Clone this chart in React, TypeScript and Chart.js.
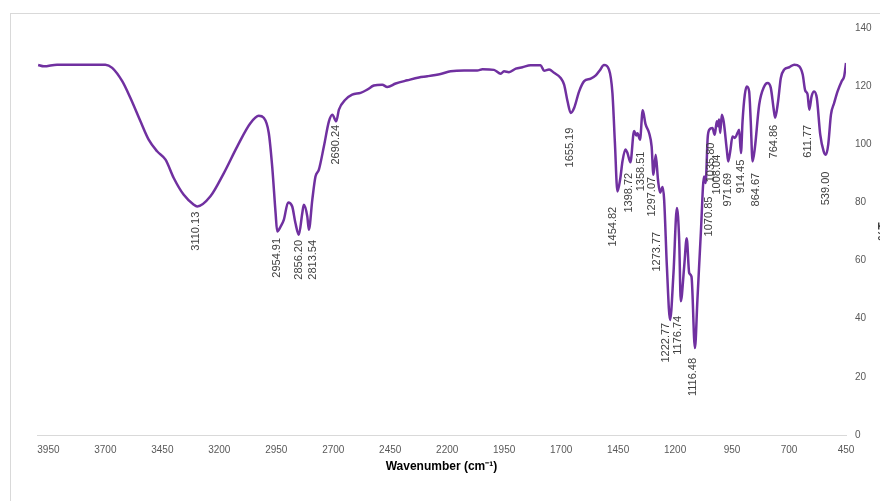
import React, { useEffect, useRef } from "react";
import { Chart, registerables } from "chart.js";

Chart.register(...registerables);

// Spectrum (wavenumber in cm-1, transmittance in %)
const wavenumbers = [
  3995, 3970, 3912, 3700, 3670, 3626, 3590, 3546, 3510, 3473, 3436, 3400, 3356, 3312, 3297,
  3239, 3180, 3121, 3063, 3027, 3005, 2983, 2968, 2953, 2946, 2931, 2917, 2898, 2880, 2866,
  2851, 2836, 2829, 2814, 2807, 2792, 2778, 2763, 2741, 2719, 2704, 2687, 2675, 2646, 2617,
  2580, 2551, 2522, 2485, 2463, 2426, 2375, 2324, 2287, 2229, 2185, 2126, 2068, 2045, 1995,
  1965, 1951, 1929, 1899, 1870, 1834, 1790, 1775, 1753, 1731, 1702, 1687, 1672, 1658, 1643,
  1621, 1599, 1570, 1548, 1530, 1512, 1490, 1475, 1464, 1453, 1440, 1431, 1418, 1409, 1396,
  1380, 1370, 1365, 1354, 1342, 1330, 1314, 1303, 1295, 1285, 1275, 1266, 1255, 1248, 1236,
  1222, 1207, 1192, 1182, 1175, 1160, 1149, 1138, 1128, 1113, 1102, 1087, 1073, 1066, 1057,
  1050, 1036, 1026, 1017, 1011, 1007, 1002, 995, 987, 973, 967, 958, 948, 938, 926,
  919, 911, 904, 894, 885, 875, 868, 860, 850, 831, 809, 794, 780, 768, 761,
  748, 736, 721, 699, 677, 655, 640, 629, 619, 611, 601, 590, 578, 563, 548,
  538, 528, 516, 502, 487, 469, 458, 450,
];
const transmittance = [
  127.3, 126.8, 127.4, 127.4, 126.3, 121.7, 115.9, 107.9, 101.6, 97.6, 94.7, 88.4, 82.6, 79.2, 78.6,
  82.1, 90.1, 99.3, 107.3, 109.8, 109.1, 103.9, 92.4, 76.3, 70.0, 71.7, 74.0, 80.0, 78.6, 72.9,
  68.9, 76.3, 79.2, 75.2, 70.6, 80.9, 88.9, 91.3, 99.3, 107.9, 110.2, 107.9, 111.9, 115.4, 117.1,
  117.7, 118.8, 120.2, 120.5, 119.7, 120.9, 122.0, 123.0, 123.4, 124.2, 125.1, 125.4, 125.4, 125.8, 125.6,
  124.3, 125.1, 124.8, 126.0, 126.5, 127.2, 127.2, 125.3, 125.7, 124.6, 122.8, 120.5, 114.8, 110.8, 112.5,
  118.2, 121.7, 122.6, 123.7, 125.5, 127.3, 125.7, 117.7, 100.4, 83.8, 88.5, 94.1, 98.2, 97.0, 93.8,
  104.6, 103.0, 103.8, 101.6, 111.7, 107.0, 103.9, 99.3, 89.5, 96.4, 87.8, 83.4, 85.3, 80.9, 58.0,
  39.6, 55.7, 78.1, 67.1, 46.0, 58.0, 67.7, 55.7, 54.5, 29.9, 46.5, 69.5, 88.9, 86.7, 102.2,
  105.0, 105.6, 103.3, 107.9, 106.2, 108.5, 103.9, 110.2, 107.9, 98.1, 94.1, 97.6, 102.7, 102.2, 103.9,
  105.0, 97.0, 107.9, 117.1, 119.9, 118.2, 107.9, 94.1, 98.7, 113.6, 119.9, 121.1, 119.4, 112.5, 109.1,
  114.8, 122.8, 125.7, 126.5, 127.4, 126.8, 124.0, 118.5, 117.3, 111.9, 116.5, 118.2, 115.9, 103.3, 97.6,
  96.4, 99.9, 110.2, 114.2, 118.2, 121.7, 123.4, 128.0,
];

// Peak annotations: text, and the (wavenumber, %T) where the label's top sits
const peakLabels = [
  "3110.13", "2954.91", "2856.20", "2813.54", "2690.24", "1655.19", "1454.82", "1398.72",
  "1358.51", "1297.07", "1273.77", "1222.77", "1176.74", "1116.48", "1070.85", "1035.80",
  "1008.04", "971.69", "914.45", "864.67", "764.86", "611.77", "539.00",
];
const peakLabelX = [
  3304, 2949, 2852, 2791, 2690, 1662, 1473, 1402,
  1351, 1302, 1280, 1241, 1187, 1123, 1051, 1043,
  1017, 970, 911, 845, 765, 618, 538,
];
const peakLabelT = [
  76.8, 67.8, 67.1, 67.1, 106.7, 105.7, 78.5, 90.2,
  97.5, 88.8, 69.9, 38.6, 41.0, 26.5, 82.0, 100.6,
  96.4, 90.2, 94.7, 90.2, 106.7, 106.7, 90.6,
];

const xTickValues = [3950, 3700, 3450, 3200, 2950, 2700, 2450, 2200, 1950, 1700, 1450, 1200, 950, 700, 450];
const xTitle = "Wavenumber (cm\u207B\u00B9)";
const yTitle = "%T";

export default function App() {
  const ref = useRef<HTMLCanvasElement | null>(null);

  useEffect(() => {
    if (!ref.current) return;
    const framePlugin = {
      id: "frame",
      beforeDraw(chart: any) {
        const ctx = chart.ctx;
        ctx.save();
        ctx.fillStyle = "#ffffff";
        ctx.fillRect(0, 0, chart.width, chart.height);
        ctx.strokeStyle = "#d9d9d9";
        ctx.lineWidth = 1;
        ctx.strokeRect(10.5, 13.5, chart.width + 20, chart.height + 20);
        ctx.restore();
      },
      afterDraw(chart: any) {
        const ctx = chart.ctx;
        const ys = chart.scales.y;
        ctx.save();
        ctx.translate(884, (ys.top + ys.bottom) / 2 + 0);
        ctx.rotate(-Math.PI / 2);
        ctx.fillStyle = "#404040";
        ctx.font = "bold 12px 'Liberation Sans'";
        ctx.textAlign = "center";
        ctx.textBaseline = "middle";
        ctx.fillText(yTitle, 0, 0);
        ctx.restore();
      },
    };
    const peakPlugin = {
      id: "peaks",
      afterDatasetsDraw(chart: any) {
        const ctx = chart.ctx;
        const xs = chart.scales.x;
        const ys = chart.scales.y;
        ctx.save();
        ctx.fillStyle = "#404040";
        ctx.font = "11px 'Liberation Sans'";
        ctx.textAlign = "right";
        ctx.textBaseline = "middle";
        peakLabels.forEach((t, i) => {
          const px = xs.getPixelForValue(peakLabelX[i]);
          const py = ys.getPixelForValue(peakLabelT[i]);
          ctx.save();
          ctx.translate(px, py);
          ctx.rotate(-Math.PI / 2);
          ctx.fillText(t, 0, 0);
          ctx.restore();
        });
        ctx.restore();
      },
    };

    const chart = new Chart(ref.current, {
      type: "line",
      data: {
        datasets: [
          {
            data: wavenumbers.map((w, i) => ({ x: w, y: transmittance[i] })),
            borderColor: "#7030a0",
            borderWidth: 2.5,
            pointRadius: 0,
            cubicInterpolationMode: "monotone",
            fill: false,
          },
        ],
      },
      options: {
        animation: false,
        responsive: false,
        maintainAspectRatio: false,
        layout: { padding: { left: 37, top: 28, right: 0, bottom: 0 } },
        plugins: { legend: { display: false }, tooltip: { enabled: false } },
        scales: {
          x: {
            type: "linear",
            reverse: true,
            min: 450,
            max: 4000,
            afterBuildTicks: (scale: any) => {
              scale.ticks = xTickValues.map((v) => ({ value: v }));
            },
            afterFit: (scale: any) => {
              scale.height = 66;
            },
            grid: { display: false, drawTicks: false },
            border: { display: true, color: "#d9d9d9", width: 1 },
            ticks: {
              autoSkip: false,
              maxRotation: 0,
              padding: 9,
              color: "#595959",
              font: { family: "'Liberation Sans'", size: 10 },
              callback: (v: any) => String(v),
            },
            title: {
              display: true,
              text: xTitle,
              color: "#000000",
              font: { family: "'Liberation Sans'", size: 12, weight: "bold" },
              padding: { top: 0, bottom: 27 },
            },
          },
          y: {
            position: "right",
            min: 0,
            max: 140,
            afterFit: (scale: any) => {
              scale.width = 34;
            },
            grid: { display: false, drawTicks: false },
            border: { display: false },
            ticks: {
              stepSize: 20,
              padding: 9,
              color: "#595959",
              font: { family: "'Liberation Sans'", size: 10 },
            },
          },
        },
      },
      plugins: [framePlugin, peakPlugin],
    } as any);
    return () => chart.destroy();
  }, []);

  return (
    <div style={{ position: "fixed", left: 0, top: 0, width: 880, height: 501, background: "#fff" }}>
      <canvas ref={ref} width={880} height={501} style={{ display: "block" }} />
    </div>
  );
}
